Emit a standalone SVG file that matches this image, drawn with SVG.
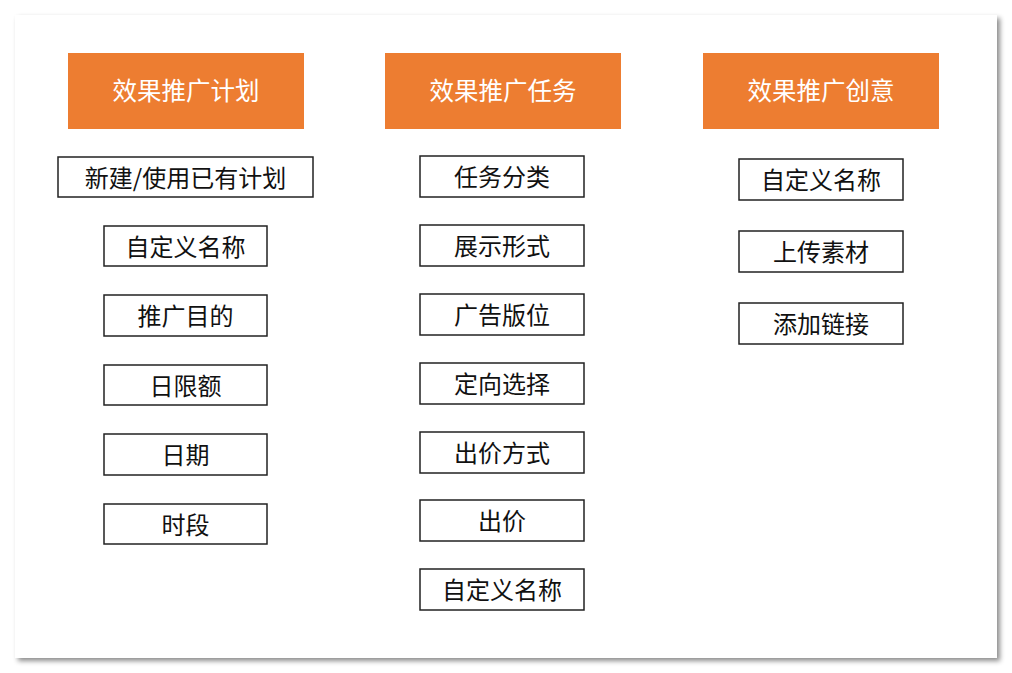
<svg xmlns="http://www.w3.org/2000/svg" width="1012" height="673" viewBox="0 0 1012 673">
<defs>
<filter id="sh" x="-5%" y="-5%" width="110%" height="110%">
<feDropShadow dx="3" dy="3" stdDeviation="2.5" flood-color="#000" flood-opacity="0.45"/>
</filter>
</defs>
<style>
.hd{fill:#ED7D31;}
.hdt{fill:#FFFFFF;font-family:"Noto Sans CJK SC","Noto Sans",sans-serif;font-size:24.5px;text-anchor:middle;dominant-baseline:central;}
.bx{fill:#FFFFFF;stroke:#222;stroke-width:1.5;}
.bxt{fill:#111;font-family:"Noto Sans CJK SC","Noto Sans",sans-serif;font-size:24px;text-anchor:middle;dominant-baseline:central;}
</style>
<rect x="0" y="0" width="1012" height="673" fill="#FFFFFF"/>
<rect x="15" y="15" width="982" height="643" fill="#FFFFFF" filter="url(#sh)"/>
<g id="connectors"></g>
<g id="h1"><rect class="hd" x="68" y="53" width="236" height="76"/><text class="hdt" x="186" y="89">效果推广计划</text></g>
<g id="h2"><rect class="hd" x="385" y="53" width="236" height="76"/><text class="hdt" x="503" y="89">效果推广任务</text></g>
<g id="h3"><rect class="hd" x="703" y="53" width="236" height="76"/><text class="hdt" x="821" y="89">效果推广创意</text></g>
<g id="a1"><rect class="bx" x="58" y="157" width="255" height="40"/><text class="bxt" x="185.5" y="176">新建/使用已有计划</text></g>
<g id="a2"><rect class="bx" x="104" y="226" width="163" height="40"/><text class="bxt" x="185.5" y="245">自定义名称</text></g>
<g id="a3"><rect class="bx" x="104" y="295" width="163" height="41"/><text class="bxt" x="185.5" y="314.5">推广目的</text></g>
<g id="a4"><rect class="bx" x="104" y="365" width="163" height="40"/><text class="bxt" x="185.5" y="384">日限额</text></g>
<g id="a5"><rect class="bx" x="104" y="434" width="163" height="41"/><text class="bxt" x="185.5" y="453.5">日期</text></g>
<g id="a6"><rect class="bx" x="104" y="504" width="163" height="40"/><text class="bxt" x="185.5" y="523">时段</text></g>
<g id="b1"><rect class="bx" x="420" y="156" width="164" height="41"/><text class="bxt" x="502" y="175.5">任务分类</text></g>
<g id="b2"><rect class="bx" x="420" y="225" width="164" height="41"/><text class="bxt" x="502" y="244.5">展示形式</text></g>
<g id="b3"><rect class="bx" x="420" y="294" width="164" height="41"/><text class="bxt" x="502" y="313.5">广告版位</text></g>
<g id="b4"><rect class="bx" x="420" y="363" width="164" height="41"/><text class="bxt" x="502" y="382.5">定向选择</text></g>
<g id="b5"><rect class="bx" x="420" y="432" width="164" height="41"/><text class="bxt" x="502" y="451.5">出价方式</text></g>
<g id="b6"><rect class="bx" x="420" y="500" width="164" height="41"/><text class="bxt" x="502" y="519.5">出价</text></g>
<g id="b7"><rect class="bx" x="420" y="569" width="164" height="41"/><text class="bxt" x="502" y="588.5">自定义名称</text></g>
<g id="c1"><rect class="bx" x="739" y="159" width="164" height="41"/><text class="bxt" x="821" y="178.5">自定义名称</text></g>
<g id="c2"><rect class="bx" x="739" y="231" width="164" height="41"/><text class="bxt" x="821" y="250.5">上传素材</text></g>
<g id="c3"><rect class="bx" x="739" y="303" width="164" height="41"/><text class="bxt" x="821" y="322.5">添加链接</text></g>
</svg>
